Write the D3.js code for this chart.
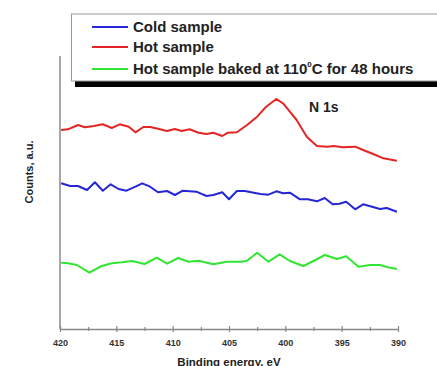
<!DOCTYPE html>
<html>
<head>
<meta charset="utf-8">
<script src="https://cdn.jsdelivr.net/npm/d3@7"></script>
<style>
  body { margin: 0; background: #fff; }
  svg { display: block; font-family: Arial, "Liberation Sans", sans-serif; font-weight: bold; }
  .trace { fill: none; stroke-width: 2px; stroke-linejoin: round; }
  .axis path, .axis line { stroke: #888; }
  .axis text { fill: #333; font-size: 9px; font-weight: bold; font-family: Arial, "Liberation Sans", sans-serif; }
</style>
</head>
<body>
<svg id="chart" width="437" height="366"></svg>
<script>
  // binding energy (eV) and counts (a.u.)
  const hotE = [419.9, 419.3, 418.4, 417.8, 417.0, 416.2, 415.4, 414.7, 413.9, 413.3, 412.6, 412.0, 411.3, 410.5, 409.8, 409.2, 408.5, 407.7, 407.0, 406.4, 405.6, 405.1, 404.3, 403.4, 402.5, 401.7, 400.8, 400.2, 399.6, 399.0, 398.1, 397.2, 396.3, 395.7, 394.9, 393.8, 393.1, 392.2, 391.3, 390.1];
  const hotCounts = [199, 199.7, 204, 201.7, 203, 204.7, 201, 204.7, 202.3, 196.7, 202, 202, 200.3, 198, 200, 198, 199.7, 196.3, 195, 196.3, 193, 196.3, 196.7, 204, 212.3, 222.3, 230, 225.7, 217.3, 209, 192.3, 183, 182.3, 183, 181.7, 182.3, 179, 175, 170.7, 168.3];

  const coldE = [419.9, 419.1, 418.4, 417.6, 416.9, 416.2, 415.5, 414.8, 414.1, 413.3, 412.7, 412.0, 411.3, 410.5, 409.8, 409.1, 407.9, 407.0, 406.4, 405.6, 405.0, 404.3, 403.6, 402.8, 402.2, 401.5, 400.8, 400.2, 399.6, 398.7, 398.0, 397.2, 396.5, 395.8, 395.2, 394.6, 393.8, 393.1, 392.3, 391.6, 391.0, 390.1];
  const coldCounts = [145.7, 143, 143, 139, 146.7, 138.3, 144.7, 140, 138.3, 142.3, 145.7, 142.3, 136.7, 138, 134, 138.3, 137.3, 133, 134, 136.7, 129.7, 138, 138, 136.3, 135, 134.3, 137.7, 135.7, 136.3, 129.7, 129.7, 127.7, 131, 124.7, 125.3, 127.3, 119.7, 124.7, 122.3, 120, 121, 117.3];

  const bakedE = [419.9, 419.3, 418.5, 417.4, 416.3, 415.4, 414.5, 413.6, 412.5, 411.4, 410.5, 409.5, 408.6, 407.7, 406.4, 405.2, 403.9, 403.4, 402.5, 401.5, 400.5, 399.6, 398.4, 397.5, 396.5, 395.4, 394.6, 393.5, 392.5, 391.6, 390.9, 390.1];
  const bakedCounts = [66.3, 65.7, 64, 56.3, 63, 65.7, 66.7, 68, 65, 71.3, 65.3, 71, 67.3, 68.3, 64.7, 67.3, 67.3, 68.3, 76.3, 67.3, 74.7, 68, 63, 68, 74, 70, 72.7, 62.3, 64, 64, 61.7, 60];

  const seriesNames = ["Cold sample", "Hot sample", "Hot sample baked at 110"];
  const seriesColors = ["#2626d6", "#e52525", "#33e533"];
  const xTicks = [420, 415, 410, 405, 400, 395, 390];
  const xMinorTicks = [417.5, 412.5, 407.5, 402.5, 397.5, 392.5];

  const svg = d3.select("#chart");
  const x = d3.scaleLinear().domain([420, 390]).range([60, 398]);
  const y = d3.scaleLinear().domain([0, 273]).range([329, 56]);

  // y axis: plain line, no ticks
  svg.append("line")
    .attr("x1", x(420)).attr("x2", x(420))
    .attr("y1", y(273)).attr("y2", y(0))
    .attr("stroke", "#888").attr("stroke-width", 1.5);

  // x axis, ticks crossing the line
  const xAxis = svg.append("g").attr("class", "axis")
    .attr("transform", `translate(0,${y(0)})`)
    .call(d3.axisBottom(x).tickValues(xTicks).tickSizeInner(3).tickSizeOuter(0).tickPadding(8));
  xAxis.select(".domain").attr("stroke-width", 1.5);
  xAxis.selectAll(".tick line").attr("y1", -3).attr("stroke-width", 1.2);
  svg.append("g").attr("class", "axis")
    .attr("transform", `translate(0,${y(0)})`)
    .call(d3.axisBottom(x).tickValues(xMinorTicks).tickSizeInner(2).tickSizeOuter(0).tickFormat(""))
    .call(g => g.select(".domain").remove())
    .selectAll(".tick line").attr("y1", -2).attr("stroke-width", 1.2);

  const line = d3.line().x(d => x(d[0])).y(d => y(d[1]));
  const traces = [
    { e: coldE, c: coldCounts, color: seriesColors[0] },
    { e: hotE, c: hotCounts, color: seriesColors[1] },
    { e: bakedE, c: bakedCounts, color: seriesColors[2] }
  ];
  traces.forEach(t => {
    svg.append("path")
      .attr("class", "trace")
      .attr("stroke", t.color)
      .attr("d", line(d3.zip(t.e, t.c)));
  });

  // peak label
  svg.append("text")
    .attr("x", x(397.9)).attr("y", 112)
    .attr("font-size", 14).attr("fill", "#222")
    .text("N 1s");

  // axis titles
  svg.append("text")
    .attr("x", (x(420) + x(390)) / 2).attr("y", 365.5)
    .attr("text-anchor", "middle")
    .attr("font-size", 11.5).attr("fill", "#222")
    .text("Binding energy, eV");
  svg.append("text")
    .attr("transform", "translate(33,172) rotate(-90)")
    .attr("text-anchor", "middle")
    .attr("font-size", 11).attr("fill", "#222")
    .text("Counts, a.u.");

  // legend with drop shadow, running past the right edge
  const legend = svg.append("g");
  legend.append("rect")
    .attr("x", 75).attr("y", 20).attr("width", 400).attr("height", 67)
    .attr("fill", "#000");
  legend.append("rect")
    .attr("x", 71.5).attr("y", 14).attr("width", 400).attr("height", 67)
    .attr("fill", "#fff").attr("stroke", "#999").attr("stroke-width", 1);
  const rowLine = [27, 47, 69];
  const rowText = [32, 52, 74];
  seriesNames.forEach((name, i) => {
    legend.append("line")
      .attr("x1", 92).attr("x2", 128)
      .attr("y1", rowLine[i]).attr("y2", rowLine[i])
      .attr("stroke", seriesColors[i]).attr("stroke-width", 1.8);
    const t = legend.append("text")
      .attr("x", 133).attr("y", rowText[i])
      .attr("font-size", 15).attr("fill", "#222")
      .text(name);
    if (i === 2) {
      t.append("tspan").attr("font-size", 8).attr("dy", -7).text("0");
      t.append("tspan").attr("dy", 7).text("C for 48 hours");
    }
  });
</script>
</body>
</html>
